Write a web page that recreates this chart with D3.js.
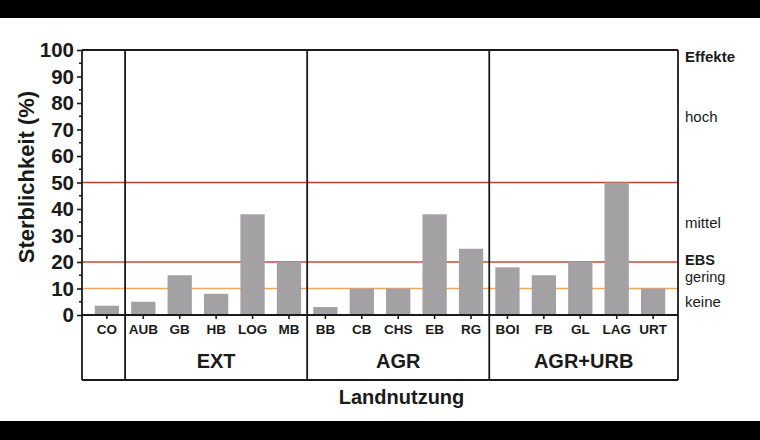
<!DOCTYPE html>
<html>
<head>
<meta charset="utf-8">
<script src="https://cdn.jsdelivr.net/npm/d3@7"></script>
<style>
  html, body { margin: 0; padding: 0; background: #fff; }
  svg { display: block; font-family: "Liberation Sans", Arial, Helvetica, sans-serif; }
</style>
</head>
<body>
<div id="chart"></div>
<script>
////////////////////////////////////////////////////////////////
// Data
const categories = ["CO", "AUB", "GB", "HB", "LOG", "MB", "BB", "CB", "CHS", "EB", "RG", "BOI", "FB", "GL", "LAG", "URT"];
const values = [3.5, 5, 15, 8, 38, 20, 3, 10, 10, 38, 25, 18, 15, 20, 50, 10];
const groups = ["", "EXT", "EXT", "EXT", "EXT", "EXT", "AGR", "AGR", "AGR", "AGR", "AGR", "AGR+URB", "AGR+URB", "AGR+URB", "AGR+URB", "AGR+URB"];
const yTicks = [0, 10, 20, 30, 40, 50, 60, 70, 80, 90, 100];
const thresholds = [10, 20, 50];
const thresholdColors = ["#efa95e", "#cc4a3a", "#b8432c"];
const effectLabels = ["Effekte", "hoch", "mittel", "EBS", "gering", "keine"];
const effectLevels = [97.5, 75, 35, 20.7, 14.2, 5];
const effectBold = [true, false, false, true, false, false];

////////////////////////////////////////////////////////////////
// Layout
const width = 760, height = 440;
const margin = ({ top: 50, right: 82, bottom: 125, left: 82 });
const tableBottom = 380;
const ink = "#1a1a1a";

const svg = d3.select("#chart").append("svg")
  .attr("width", width).attr("height", height)
  .attr("viewBox", [0, 0, width, height]);

const x = d3.scaleBand()
  .domain(categories)
  .range([margin.left, width - margin.right])
  .paddingInner(0.333)
  .paddingOuter(0.35);

const y = d3.scaleLinear([0, 100], [height - margin.bottom, margin.top]);

// black bands top and bottom
svg.append("rect").attr("x", 0).attr("y", 0).attr("width", width).attr("height", 18).attr("fill", "#000");
svg.append("rect").attr("x", 0).attr("y", 421).attr("width", width).attr("height", 19).attr("fill", "#000");

// threshold lines (behind bars)
svg.append("g")
  .selectAll("line")
  .data(thresholds)
  .join("line")
  .attr("x1", margin.left).attr("x2", width - margin.right)
  .attr("y1", d => y(d)).attr("y2", d => y(d))
  .attr("stroke", (d, i) => thresholdColors[i])
  .attr("stroke-width", 1.6);

// bars
svg.append("g")
  .attr("fill", "#a4a1a5")
  .selectAll("rect")
  .data(categories)
  .join("rect")
  .attr("x", d => x(d))
  .attr("width", x.bandwidth())
  .attr("y", (d, i) => y(values[i]))
  .attr("height", (d, i) => y(0) - y(values[i]));

// y axis
const yAxis = d3.axisLeft(y)
  .tickValues(yTicks)
  .tickSize(5)
  .tickPadding(3)
  .tickSizeOuter(0);
const gy = svg.append("g")
  .attr("transform", `translate(${margin.left},0)`)
  .call(yAxis);
gy.select(".domain").remove();
gy.selectAll(".tick line").attr("stroke", ink).attr("stroke-width", 1.6);
gy.selectAll(".tick text")
  .attr("fill", ink)
  .style("font-size", "20.5px")
  .style("font-weight", "bold");

// minor ticks
svg.append("g")
  .selectAll("line")
  .data(d3.range(5, 100, 10))
  .join("line")
  .attr("x1", margin.left - 3).attr("x2", margin.left)
  .attr("y1", d => y(d)).attr("y2", d => y(d))
  .attr("stroke", ink).attr("stroke-width", 1.5);

// x axis (category labels)
const xAxis = d3.axisBottom(x).tickSize(4).tickPadding(5).tickSizeOuter(0);
const gx = svg.append("g")
  .attr("transform", `translate(0,${y(0)})`)
  .call(xAxis);
gx.select(".domain").remove();
gx.selectAll(".tick line").attr("stroke", ink).attr("stroke-width", 1.6);
gx.selectAll(".tick text")
  .attr("fill", ink)
  .style("font-size", "13.5px")
  .style("font-weight", "bold");

// frame + table lines
const frame = svg.append("g").attr("stroke", ink).attr("stroke-width", 1.8).attr("fill", "none");
frame.append("line").attr("x1", margin.left).attr("x2", width - margin.right).attr("y1", y(100)).attr("y2", y(100));
frame.append("line").attr("x1", margin.left).attr("x2", width - margin.right).attr("y1", y(0)).attr("y2", y(0));
frame.append("line").attr("x1", margin.left).attr("x2", width - margin.right).attr("y1", tableBottom).attr("y2", tableBottom);
frame.append("line").attr("x1", margin.left).attr("x2", margin.left).attr("y1", y(100)).attr("y2", tableBottom);
frame.append("line").attr("x1", width - margin.right).attr("x2", width - margin.right).attr("y1", y(100)).attr("y2", tableBottom);

// group separators + group labels
const groupNames = Array.from(new Set(groups));
const gap = x.step() * x.paddingInner() / 2;
const spans = groupNames.map(g => {
  const idx = d3.range(categories.length).filter(i => groups[i] === g);
  const first = categories[idx[0]], last = categories[idx[idx.length - 1]];
  return {
    name: g,
    x0: idx[0] === 0 ? margin.left : x(first) - gap,
    x1: idx[idx.length - 1] === categories.length - 1 ? width - margin.right : x(last) + x.bandwidth() + gap
  };
});

frame.selectAll(".sep")
  .data(spans.slice(1))
  .join("line")
  .attr("class", "sep")
  .attr("x1", d => d.x0).attr("x2", d => d.x0)
  .attr("y1", y(100)).attr("y2", tableBottom);

svg.append("g")
  .selectAll("text")
  .data(spans.filter(d => d.name))
  .join("text")
  .attr("x", d => (d.x0 + d.x1) / 2)
  .attr("y", 368)
  .attr("text-anchor", "middle")
  .attr("fill", ink)
  .style("font-size", "20px")
  .style("font-weight", "bold")
  .text(d => d.name);

// axis titles
svg.append("text")
  .attr("transform", `translate(34,177) rotate(-90)`)
  .attr("text-anchor", "middle")
  .attr("fill", ink)
  .style("font-size", "22px")
  .style("font-weight", "bold")
  .text("Sterblichkeit (%)");

svg.append("text")
  .attr("x", (spans[1].x0 + width - margin.right) / 2)
  .attr("y", 404)
  .attr("text-anchor", "middle")
  .attr("fill", ink)
  .style("font-size", "20px")
  .style("font-weight", "bold")
  .text("Landnutzung");

// effect labels on the right
svg.append("g")
  .selectAll("text")
  .data(effectLabels)
  .join("text")
  .attr("x", width - margin.right + 7)
  .attr("y", (d, i) => y(effectLevels[i]))
  .attr("dy", "0.35em")
  .attr("fill", ink)
  .style("font-size", (d, i) => (i === 3 || i === 4) ? "14.5px" : "15px")
  .style("font-weight", (d, i) => effectBold[i] ? "bold" : "normal")
  .text(d => d);
</script>
</body>
</html>
